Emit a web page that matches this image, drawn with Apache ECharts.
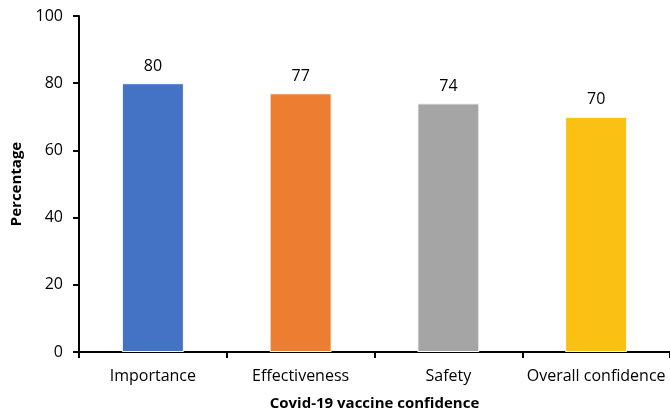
<!DOCTYPE html>
<html>
<head>
<meta charset="utf-8">
<script src="https://cdn.jsdelivr.net/npm/echarts@6/dist/echarts.min.js"></script>
<style>
  html, body { margin: 0; padding: 0; background: #fff; }
  #chart { width: 670px; height: 416px; }
</style>
</head>
<body>
<div id="chart"></div>
<script>
const categories = ["Importance", "Effectiveness", "Safety", "Overall confidence"];
const values = [80, 77, 74, 70];
const barColors = ["#4472C4", "#ED7D31", "#A5A5A5", "#FBC014"];
const yTicks = { min: 0, max: 100, interval: 20 };

const font = "'Open Sans', sans-serif";

const chart = echarts.init(document.getElementById("chart"), null, { renderer: "canvas" });

const option = {
    animation: false,
    grid: { left: 79, right: -5, top: 16, bottom: 63 },
    xAxis: {
        type: "category",
        data: categories,
        name: "Covid-19 vaccine confidence",
        nameLocation: "middle",
        nameGap: 44,
        nameTextStyle: { fontFamily: font, fontSize: 15, fontWeight: "bold", color: "#000" },
        axisLine: { lineStyle: { color: "#000", width: 2 } },
        axisTick: { show: true, length: 6, lineStyle: { color: "#000", width: 2 } },
        axisLabel: { margin: 16, fontFamily: font, fontSize: 16, color: "#000", interval: 0 }
    },
    yAxis: {
        type: "value",
        min: yTicks.min,
        max: yTicks.max,
        interval: yTicks.interval,
        name: "Percentage",
        nameLocation: "middle",
        nameGap: 52,
        nameTextStyle: { fontFamily: font, fontSize: 15, fontWeight: "bold", color: "#000" },
        axisLine: { show: true, lineStyle: { color: "#000", width: 2 } },
        axisTick: { show: true, length: 6, lineStyle: { color: "#000", width: 2 } },
        splitLine: { show: false },
        axisLabel: { margin: 16, fontFamily: font, fontSize: 16, color: "#000" }
    },
    series: [{
        type: "bar",
        barWidth: "42%",
        data: values.map((v, i) => ({ value: v, itemStyle: { color: barColors[i] } })),
        itemStyle: { borderColor: "#fff", borderWidth: 1 },
        label: {
            show: true,
            position: "top",
            distance: 9,
            fontFamily: font,
            fontSize: 16,
            color: "#000"
        }
    }]
};

chart.setOption(option);
</script>
</body>
</html>
